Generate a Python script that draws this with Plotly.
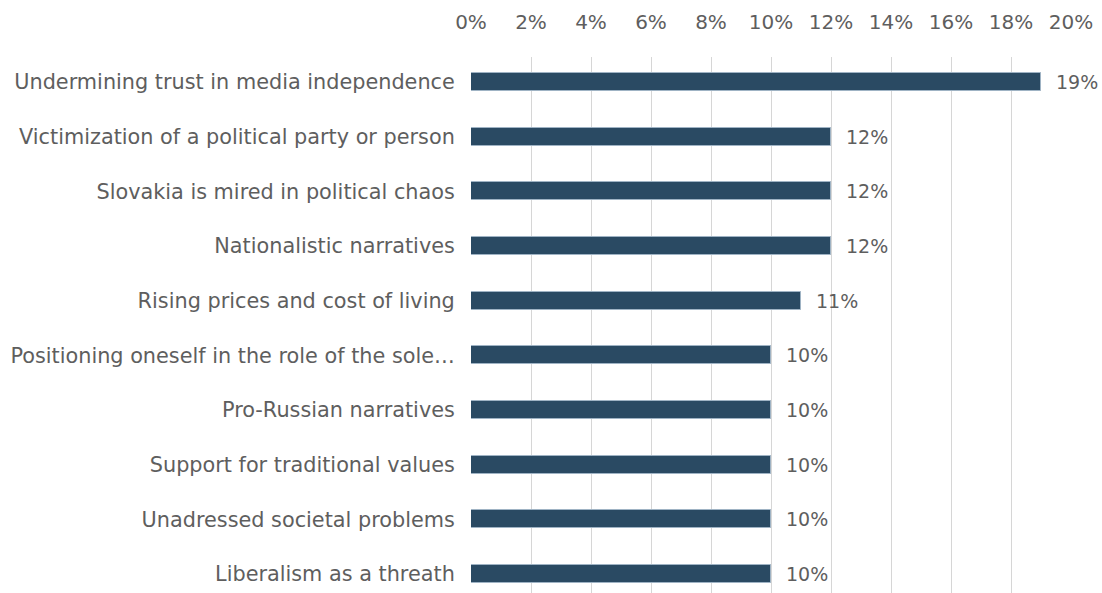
import plotly.graph_objects as go

categories = [
    "Undermining trust in media independence",
    "Victimization of a political party or person",
    "Slovakia is mired in political chaos",
    "Nationalistic narratives",
    "Rising prices and cost of living",
    "Positioning oneself in the role of the sole…",
    "Pro-Russian narratives",
    "Support for traditional values",
    "Unadressed societal problems",
    "Liberalism as a threath",
]
values = [19, 12, 12, 12, 11, 10, 10, 10, 10, 10]
tick_vals = list(range(0, 21, 2))
tick_text = [f"{v}%" for v in tick_vals]

FONT = "DejaVu Sans"
GRAY = "#5e5e5e"
BAR = "#2a4a63"

fig = go.Figure()
fig.add_trace(go.Bar(
    x=values,
    y=categories,
    orientation="h",
    width=0.33,
    marker=dict(color=BAR, line=dict(color="#9fb3c4", width=1)),
    hoverinfo="x+y",
))

for c, v in zip(categories, values):
    fig.add_annotation(
        x=v, y=c, text=f"{v}%", showarrow=False,
        xanchor="left", xshift=13, yshift=0,
        font=dict(family=FONT, size=19, color=GRAY),
    )

fig.update_layout(
    width=1102, height=593,
    margin=dict(l=471, r=31, t=57, b=0),
    plot_bgcolor="white", paper_bgcolor="white",
    showlegend=False,
    font=dict(family=FONT, size=20, color=GRAY),
    bargap=0,
)
fig.update_xaxes(
    side="top", range=[0, 20], tickvals=tick_vals, ticktext=tick_text,
    showgrid=True, gridcolor="#d6d6d6", gridwidth=1,
    zeroline=False, showline=False,
    ticks="outside", ticklen=19, tickcolor="white",
    tickfont=dict(family=FONT, size=20, color=GRAY),
)
fig.update_yaxes(
    categoryorder="array", categoryarray=categories,
    range=[9.348, -0.457],
    showgrid=False, zeroline=False, showline=False,
    ticks="outside", ticklen=11, tickcolor="white",
    tickfont=dict(family=FONT, size=20.8, color=GRAY),
)

fig.write_html("out.html")
